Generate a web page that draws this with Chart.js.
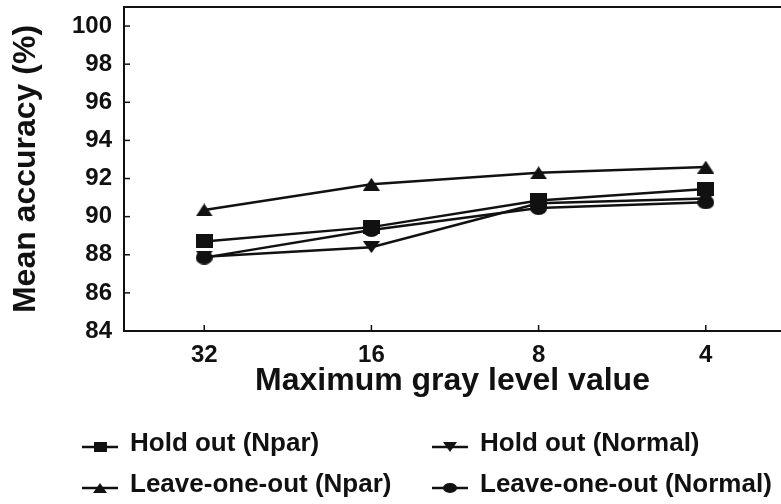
<!DOCTYPE html>
<html>
<head>
<meta charset="utf-8">
<script src="https://cdn.jsdelivr.net/npm/chart.js@4"></script>
<style>
  body { margin: 0; background: #fff; }
  canvas { display: block; }
</style>
</head>
<body>
<canvas id="chart" width="781" height="504"></canvas>
<script>
        const categories = ['32', '16', '8', '4'];
        const yTicks = [84, 86, 88, 90, 92, 94, 96, 98, 100];
        const seriesNames = ['Hold out (Npar)', 'Hold out (Normal)', 'Leave-one-out (Npar)', 'Leave-one-out (Normal)'];
        const holdOutNpar = [88.7, 89.45, 90.85, 91.45];
        const holdOutNormal = [87.9, 88.4, 90.7, 90.95];
        const looNpar = [90.35, 91.7, 92.3, 92.6];
        const looNormal = [87.85, 89.3, 90.45, 90.75];

        const ink = '#111';
        const fontFamily = '"Liberation Sans", Arial, sans-serif';

        // marker images, slightly wider than tall like the scanned figure
        function makeMarker(shape, w, h) {
            const c = document.createElement('canvas');
            c.width = w;
            c.height = h;
            const ctx = c.getContext('2d');
            ctx.fillStyle = ink;
            ctx.beginPath();
            if (shape === 'rect') {
                ctx.rect(0, 0, w, h);
            } else if (shape === 'ellipse') {
                ctx.ellipse(w / 2, h / 2, w / 2, h / 2, 0, 0, Math.PI * 2);
            } else if (shape === 'up') {
                ctx.moveTo(w / 2, 0);
                ctx.lineTo(w, h);
                ctx.lineTo(0, h);
            } else {
                ctx.moveTo(0, 0);
                ctx.lineTo(w, 0);
                ctx.lineTo(w / 2, h);
            }
            ctx.closePath();
            ctx.fill();
            return c;
        }

        const markers = [
            makeMarker('rect', 17, 14),
            makeMarker('down', 17, 12),
            makeMarker('up', 17, 13),
            makeMarker('ellipse', 17, 14)
        ];
        const legendMarkers = [
            makeMarker('rect', 13, 10),
            makeMarker('down', 14, 10),
            makeMarker('up', 14, 10),
            makeMarker('ellipse', 14, 10)
        ];

        function toPoints(values) {
            return values.map((v, i) => ({ x: i, y: v }));
        }

        const allSeries = [holdOutNpar, holdOutNormal, looNpar, looNormal];
        const datasets = allSeries.map((values, i) => ({
            label: seriesNames[i],
            data: toPoints(values),
            borderColor: ink,
            backgroundColor: ink,
            borderWidth: 2.5,
            pointStyle: markers[i],
            pointRadius: 7,
            tension: 0
        }));

        // frame top line, inward tick marks and the two-column legend
        const decorPlugin = {
            id: 'decor',
            afterDraw(chart) {
                const ctx = chart.ctx;
                const area = chart.chartArea;
                const xs = chart.scales.x;
                const ys = chart.scales.y;
                ctx.save();
                ctx.strokeStyle = ink;
                ctx.lineWidth = 2;
                ctx.beginPath();
                ctx.moveTo(area.left, area.top);
                ctx.lineTo(area.right, area.top);
                ctx.stroke();

                ctx.lineWidth = 1.5;
                yTicks.forEach(v => {
                    const y = ys.getPixelForValue(v);
                    ctx.beginPath();
                    ctx.moveTo(area.left, y);
                    ctx.lineTo(area.left + 6, y);
                    ctx.stroke();
                });
                categories.forEach((c, i) => {
                    const x = xs.getPixelForValue(i);
                    ctx.beginPath();
                    ctx.moveTo(x, area.bottom);
                    ctx.lineTo(x, area.bottom - 6);
                    ctx.stroke();
                });

                const cols = [82, 432];
                const rows = [444, 485];
                ctx.font = 'bold 26px ' + fontFamily;
                ctx.fillStyle = ink;
                ctx.textBaseline = 'middle';
                chart.data.datasets.forEach((ds, i) => {
                    const col = i % 2;
                    const row = Math.floor(i / 2);
                    const x0 = cols[col];
                    const y0 = rows[row];
                    ctx.lineWidth = 2.5;
                    ctx.beginPath();
                    ctx.moveTo(x0, y0 + 3);
                    ctx.lineTo(x0 + 36, y0 + 3);
                    ctx.stroke();
                    const m = legendMarkers[i];
                    ctx.drawImage(m, x0 + 18 - m.width / 2, y0 + 3 - m.height / 2);
                    ctx.fillText(ds.label, x0 + 48, y0);
                });
                ctx.restore();
            }
        };

        new Chart(document.getElementById('chart'), {
            type: 'line',
            data: { datasets: datasets },
            options: {
                responsive: false,
                animation: false,
                layout: { autoPadding: false, padding: { top: 7, bottom: 102, left: 0, right: 0 } },
                plugins: { legend: { display: false }, tooltip: { enabled: false } },
                scales: {
                    x: {
                        type: 'linear',
                        min: -0.48,
                        max: 3.45,
                        afterBuildTicks: scale => {
                            scale.ticks = categories.map((c, i) => ({ value: i }));
                        },
                        afterFit: scale => {
                            scale.height = 71;
                            scale.paddingLeft = 0;
                            scale.paddingRight = 0;
                        },
                        grid: { display: true, drawOnChartArea: false, drawTicks: false },
                        border: { display: true, color: ink, width: 2 },
                        ticks: {
                            color: ink,
                            padding: 10,
                            maxRotation: 0,
                            font: { family: fontFamily, size: 24, weight: 'bold' },
                            callback: value => categories[value]
                        },
                        title: {
                            display: true,
                            text: 'Maximum gray level value',
                            color: ink,
                            padding: { top: 0, bottom: 2 },
                            font: { family: fontFamily, size: 32, weight: 'bold' }
                        }
                    },
                    y: {
                        min: 84,
                        max: 101,
                        afterBuildTicks: scale => {
                            scale.ticks = yTicks.map(v => ({ value: v }));
                        },
                        afterFit: scale => {
                            scale.width = 124;
                            scale.paddingTop = 0;
                            scale.paddingBottom = 0;
                        },
                        grid: { display: true, drawOnChartArea: false, drawTicks: false },
                        border: { display: true, color: ink, width: 2 },
                        ticks: {
                            color: ink,
                            padding: 12,
                            font: { family: fontFamily, size: 24, weight: 'bold' }
                        },
                        title: {
                            display: true,
                            text: 'Mean accuracy (%)',
                            color: ink,
                            padding: { top: 7, bottom: 0 },
                            font: { family: fontFamily, size: 32, weight: 'bold' }
                        }
                    }
                }
            },
            plugins: [decorPlugin]
        });
</script>
</body>
</html>
